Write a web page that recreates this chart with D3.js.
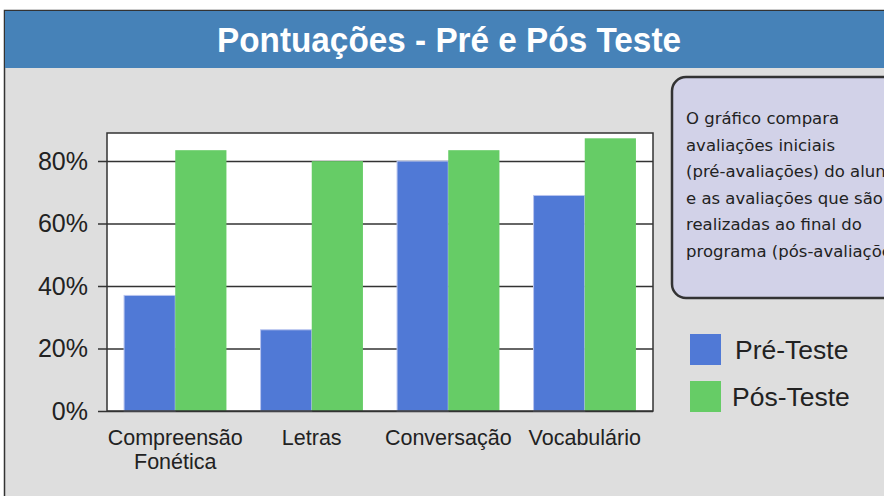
<!DOCTYPE html>
<html>
<head>
<meta charset="utf-8">
<script src="https://cdn.jsdelivr.net/npm/d3@7"></script>
<style>
  body { margin: 0; background: #fff; }
  svg { display: block; }
</style>
</head>
<body>
<div id="chart"></div>
<script>
var categories = [['Compreensão', 'Fonética'], ['Letras'], ['Conversação'], ['Vocabulário']];
var series = ['Pré-Teste', 'Pós-Teste'];
var preTest = [0.37, 0.26, 0.80, 0.69];
var postTest = [0.835, 0.80, 0.835, 0.873];
var yTicks = [0, 0.2, 0.4, 0.6, 0.8];
var noteLines = [
    'O gráfico compara',
    'avaliações iniciais',
    '(pré-avaliações) do aluno',
    'e as avaliações que são',
    'realizadas ao final do',
    'programa (pós-avaliações)'
];

var width = 884, height = 496;
var colors = ['#5079d6', '#66cc66'];
var plot = {left: 107, right: 653, top: 133, bottom: 411};
var font = '"Liberation Sans", Arial, sans-serif';

var svg = d3.select('#chart').append('svg')
    .attr('width', width)
    .attr('height', height);

// body + header
svg.append('rect').attr('x', 4.5).attr('y', 10.5).attr('width', width).attr('height', height)
    .style('fill', '#dedede').style('stroke', '#333').style('stroke-width', 1.5);
svg.append('rect').attr('x', 5).attr('y', 11).attr('width', width).attr('height', 57)
    .style('fill', '#4682b8');
svg.append('text').attr('x', 217).attr('y', 52)
    .attr('textLength', 464).attr('lengthAdjust', 'spacingAndGlyphs')
    .style('font-family', font)
    .style('font-weight', 'bold').style('font-size', '35px').style('fill', '#fff')
    .text('Pontuações - Pré e Pós Teste');

var names = categories.map(function (c) { return c.join(' '); });
var x = d3.scaleBand().domain(names).range([plot.left, plot.right])
    .paddingInner(0.25).paddingOuter(0.125);
var xSub = d3.scaleBand().domain(series).range([0, x.bandwidth()]);
var y = d3.scaleLinear().domain([0, 0.89]).range([plot.bottom, plot.top]);

svg.append('rect').attr('x', plot.left).attr('y', plot.top)
    .attr('width', plot.right - plot.left).attr('height', plot.bottom - plot.top)
    .style('fill', '#fff');

// y axis with gridlines
var yAxis = svg.append('g').attr('transform', 'translate(' + plot.left + ',0)')
    .call(d3.axisLeft(y).tickValues(yTicks).tickFormat(d3.format('.0%'))
        .tickSize(-(plot.right - plot.left)).tickPadding(19));
yAxis.select('.domain').remove();
yAxis.selectAll('line').attr('x1', -9).style('stroke', '#333').style('stroke-width', 1.5);
yAxis.selectAll('text')
    .style('font-family', font)
    .style('font-size', '25px').style('fill', '#222');

var rows = names.map(function (n, i) { return {name: n, values: [preTest[i], postTest[i]]}; });
var groups = svg.selectAll('g.cat').data(rows).enter().append('g')
    .attr('class', 'cat')
    .attr('transform', function (d) { return 'translate(' + x(d.name) + ',0)'; });
groups.selectAll('rect').data(function (d) { return d.values; }).enter().append('rect')
    .attr('x', function (d, i) { return xSub(series[i]); })
    .attr('y', function (d) { return y(d); })
    .attr('width', xSub.bandwidth())
    .attr('height', function (d) { return y(0) - y(d); })
    .style('fill', function (d, i) { return colors[i]; })
    .style('stroke', function (d, i) { return i === 0 ? '#b8c4ee' : 'none'; })
    .style('stroke-width', 1);

// plot frame
svg.append('rect').attr('x', plot.left).attr('y', plot.top)
    .attr('width', plot.right - plot.left).attr('height', plot.bottom - plot.top)
    .style('fill', 'none').style('stroke', '#333').style('stroke-width', 1.5);

// x labels
var xl = svg.selectAll('text.xlab').data(categories).enter().append('text')
    .attr('class', 'xlab')
    .attr('text-anchor', 'middle')
    .style('font-family', font)
    .style('font-size', '21.5px').style('fill', '#222');
xl.selectAll('tspan').data(function (d, i) { return d.map(function (t) { return {t: t, i: i}; }); })
    .enter().append('tspan')
    .attr('x', function (d) { return x(names[d.i]) + x.bandwidth() / 2; })
    .attr('y', function (d, j) { return 445 + j * 24; })
    .text(function (d) { return d.t; });

// note box
svg.append('rect').attr('x', 672).attr('y', 77).attr('width', 240).attr('height', 221)
    .attr('rx', 14)
    .style('fill', '#d2d2e8').style('stroke', '#333').style('stroke-width', 2.5);
svg.append('g').selectAll('text').data(noteLines).enter().append('text')
    .attr('x', 686).attr('y', function (d, i) { return 124 + i * 26.5; })
    .style('font-family', '"DejaVu Sans", sans-serif')
    .style('font-size', '16.5px').style('fill', '#222')
    .text(function (d) { return d; });

// legend
var legend = svg.selectAll('g.leg').data(series).enter().append('g')
    .attr('class', 'leg')
    .attr('transform', function (d, i) { return 'translate(690,' + (334 + i * 47) + ')'; });
legend.append('rect').attr('width', 31).attr('height', 31)
    .style('fill', function (d, i) { return colors[i]; });
legend.append('text').attr('x', function (d, i) { return i === 0 ? 45 : 42; }).attr('y', 25)
    .style('font-family', font)
    .style('font-size', '26.5px').style('fill', '#222')
    .text(function (d) { return d; });
</script>
</body>
</html>
